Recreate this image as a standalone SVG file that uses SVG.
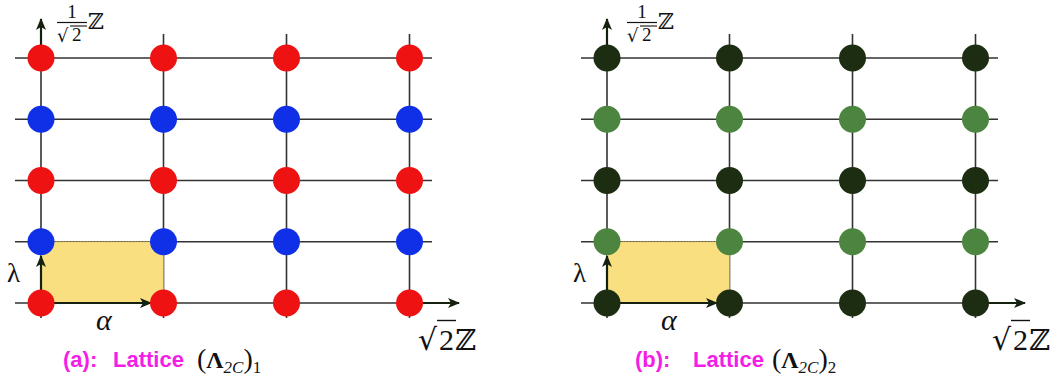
<svg xmlns="http://www.w3.org/2000/svg" width="1055" height="383" viewBox="0 0 1055 383">
<style>
.grid{stroke:#333;stroke-width:1.6;fill:none}
.arr{stroke:#14210f;stroke-width:2.2;fill:none;marker-end:url(#ah)}
.cell{fill:#f9df80;stroke:#b8a060;stroke-width:0.8;stroke-dasharray:2 1}
.red{fill:#ee1212}
.blue{fill:#1030e8}
.dark{fill:#1c2d12}
.green{fill:#4c853f}
.cap{font-family:"Liberation Sans",Arial,sans-serif;font-weight:bold;font-size:22px;fill:#f51ee6}
.m{font-family:"Liberation Serif","DejaVu Serif",serif;fill:#111}
.z{font-family:"DejaVu Serif",serif;fill:#111}
</style>
<defs>
<marker id="ah" markerUnits="userSpaceOnUse" markerWidth="12" markerHeight="10" refX="11" refY="5" orient="auto">
<path d="M0,0 L12,5 L0,10 L3,5 Z" fill="#14210f"/>
</marker>
<g id="latlines">
<path class="grid" d="M-26,58H391 M-26,119.25H391 M-26,180.5H391 M-26,241.75H391 M0,58V318 M122.5,34V318 M245.5,34V318 M368.5,34V318"/>
</g>
</defs>

<!-- connectors -->
<g id="connectors">
<use href="#latlines" x="41"/>
<use href="#latlines" x="607"/>
<path class="grid" d="M15,303H400 M581,303H966"/>
<path class="arr" d="M41,50V19"/>
<path class="arr" d="M607,50V19"/>
<path class="arr" d="M400,303H459"/>
<path class="arr" d="M966,303H1025"/>
</g>

<!-- unit cells -->
<g id="cell-a"><rect class="cell" x="41" y="241.75" width="122.5" height="61.25"/></g>
<g id="cell-b"><rect class="cell" x="607" y="241.75" width="122.5" height="61.25"/></g>

<g id="cell-arrows">
<path class="arr" d="M41,303V256"/>
<path class="arr" d="M41,303H151"/>
<path class="arr" d="M607,303V256"/>
<path class="arr" d="M607,303H717"/>
</g>

<!-- lattice (a) -->
<g id="lattice-a">
<g id="a-r1" class="red"><circle cx="41" cy="58" r="13.5"/><circle cx="163.5" cy="58" r="13.5"/><circle cx="286.5" cy="58" r="13.5"/><circle cx="409.5" cy="58" r="13.5"/></g>
<g id="a-r2" class="blue"><circle cx="41" cy="119.25" r="13.5"/><circle cx="163.5" cy="119.25" r="13.5"/><circle cx="286.5" cy="119.25" r="13.5"/><circle cx="409.5" cy="119.25" r="13.5"/></g>
<g id="a-r3" class="red"><circle cx="41" cy="180.5" r="13.5"/><circle cx="163.5" cy="180.5" r="13.5"/><circle cx="286.5" cy="180.5" r="13.5"/><circle cx="409.5" cy="180.5" r="13.5"/></g>
<g id="a-r4" class="blue"><circle cx="41" cy="241.75" r="13.5"/><circle cx="163.5" cy="241.75" r="13.5"/><circle cx="286.5" cy="241.75" r="13.5"/><circle cx="409.5" cy="241.75" r="13.5"/></g>
<g id="a-r5" class="red"><circle cx="41" cy="303" r="13.5"/><circle cx="163.5" cy="303" r="13.5"/><circle cx="286.5" cy="303" r="13.5"/><circle cx="409.5" cy="303" r="13.5"/></g>
</g>

<!-- lattice (b) -->
<g id="lattice-b">
<g id="b-r1" class="dark"><circle cx="607" cy="58" r="13.5"/><circle cx="729.5" cy="58" r="13.5"/><circle cx="852.5" cy="58" r="13.5"/><circle cx="975.5" cy="58" r="13.5"/></g>
<g id="b-r2" class="green"><circle cx="607" cy="119.25" r="13.5"/><circle cx="729.5" cy="119.25" r="13.5"/><circle cx="852.5" cy="119.25" r="13.5"/><circle cx="975.5" cy="119.25" r="13.5"/></g>
<g id="b-r3" class="dark"><circle cx="607" cy="180.5" r="13.5"/><circle cx="729.5" cy="180.5" r="13.5"/><circle cx="852.5" cy="180.5" r="13.5"/><circle cx="975.5" cy="180.5" r="13.5"/></g>
<g id="b-r4" class="green"><circle cx="607" cy="241.75" r="13.5"/><circle cx="729.5" cy="241.75" r="13.5"/><circle cx="852.5" cy="241.75" r="13.5"/><circle cx="975.5" cy="241.75" r="13.5"/></g>
<g id="b-r5" class="dark"><circle cx="607" cy="303" r="13.5"/><circle cx="729.5" cy="303" r="13.5"/><circle cx="852.5" cy="303" r="13.5"/><circle cx="975.5" cy="303" r="13.5"/></g>
</g>

<!-- axis labels (a) -->
<g id="labels-a">
<text class="m" x="72" y="18" font-size="19" text-anchor="middle">1</text>
<line x1="57" y1="22.5" x2="87" y2="22.5" stroke="#111" stroke-width="1.2"/>
<text class="z" x="57" y="42" font-size="18">√</text>
<line x1="70" y1="26" x2="87" y2="26" stroke="#111" stroke-width="1.1"/>
<text class="m" x="72" y="41" font-size="19">2</text>
<text class="z" x="88" y="29" font-size="22">ℤ</text>
<text class="m" x="7" y="282" font-size="27">λ</text>
<text class="m" x="96" y="330" font-size="30" font-style="italic">α</text>
<text class="z" x="418" y="350" font-size="30">√</text>
<line x1="437" y1="320.5" x2="456" y2="320.5" stroke="#111" stroke-width="1.4"/>
<text class="m" x="439" y="350" font-size="30">2</text>
<text class="z" x="455" y="350" font-size="29">ℤ</text>
<text class="cap" x="63" y="367">(a):</text>
<text class="cap" x="113" y="367">Lattice</text>
<text class="m" x="197" y="368" font-size="28">(<tspan font-weight="bold" font-size="24">Λ</tspan><tspan font-size="17" dy="5" font-style="italic">2C</tspan><tspan dy="-5">)</tspan><tspan font-size="17" dy="5">1</tspan></text>
</g>

<!-- axis labels (b) -->
<g id="labels-b">
<text class="m" x="642" y="18" font-size="19" text-anchor="middle">1</text>
<line x1="627" y1="22.5" x2="657" y2="22.5" stroke="#111" stroke-width="1.2"/>
<text class="z" x="627" y="42" font-size="18">√</text>
<line x1="640" y1="26" x2="657" y2="26" stroke="#111" stroke-width="1.1"/>
<text class="m" x="642" y="41" font-size="19">2</text>
<text class="z" x="658" y="29" font-size="22">ℤ</text>
<text class="m" x="573" y="282" font-size="27">λ</text>
<text class="m" x="661" y="330" font-size="30" font-style="italic">α</text>
<text class="z" x="992" y="350" font-size="30">√</text>
<line x1="1011" y1="320.5" x2="1030" y2="320.5" stroke="#111" stroke-width="1.4"/>
<text class="m" x="1013" y="350" font-size="30">2</text>
<text class="z" x="1029" y="350" font-size="29">ℤ</text>
<text class="cap" x="635" y="367">(b):</text>
<text class="cap" x="693" y="367">Lattice</text>
<text class="m" x="772" y="368" font-size="28">(<tspan font-weight="bold" font-size="24">Λ</tspan><tspan font-size="17" dy="5" font-style="italic">2C</tspan><tspan dy="-5">)</tspan><tspan font-size="17" dy="5">2</tspan></text>
</g>
</svg>
